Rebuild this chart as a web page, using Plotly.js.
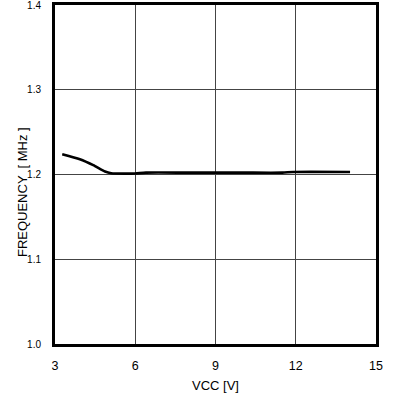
<!DOCTYPE html>
<html>
<head>
<meta charset="utf-8">
<script src="https://cdn.plot.ly/plotly-3.0.1.min.js"></script>
<style>html,body{margin:0;padding:0;background:#fff;}#chart{width:398px;height:410px;}</style>
</head>
<body>
<div id="chart"></div>
<script>
var vcc = [3.27, 3.93, 4.43, 4.87, 5.1, 5.6, 6.0, 6.4, 8.0, 10.0, 11.5, 11.9, 14.03];
var freq = [1.224, 1.218, 1.211, 1.2035, 1.2015, 1.201, 1.2012, 1.2022, 1.2022, 1.2022, 1.2022, 1.203, 1.203];
var xTicks = [3, 6, 9, 12, 15];
var yTicks = [1.0, 1.1, 1.2, 1.3, 1.4];
var yTickText = ["1.0", "1.1", "1.2", "1.3", "1.4"];
var xTitle = "VCC [V]";
var yTitle = "FREQUENCY  [ MHz ]";

var font = "Liberation Sans, Arial, sans-serif";
Plotly.newPlot("chart", [{
  x: vcc, y: freq, mode: "lines", type: "scatter",
  line: {color: "#000", width: 2.6, shape: "spline", smoothing: 0.6},
  hoverinfo: "skip"
}], {
  width: 398, height: 410,
  margin: {l: 55, r: 21.5, t: 5, b: 66},
  paper_bgcolor: "#fff", plot_bgcolor: "#fff",
  showlegend: false,
  font: {family: font, color: "#000"},
  xaxis: {
    range: [3, 15], tickvals: xTicks, ticks: "",
    showgrid: true, gridcolor: "#444", gridwidth: 1,
    showline: true, linecolor: "#000", linewidth: 3, mirror: true,
    zeroline: false, tickfont: {size: 12.5, family: font, color: "#000"},
    ticklabelstandoff: 8, automargin: false,
    title: {text: xTitle, font: {size: 13, family: font, color: "#000"}, standoff: 9}
  },
  yaxis: {
    range: [1.0, 1.4], tickvals: yTicks, ticktext: yTickText, ticks: "",
    showgrid: true, gridcolor: "#444", gridwidth: 1,
    showline: true, linecolor: "#000", linewidth: 3, mirror: true,
    zeroline: false, tickfont: {size: 10, family: font, color: "#000"},
    ticklabelstandoff: 9, ticklabeloverflow: "allow", automargin: false
  },
  annotations: [{
    text: yTitle, xref: "paper", yref: "paper", x: -0.101, y: 0.447,
    xanchor: "center", yanchor: "middle", textangle: -90, showarrow: false,
    font: {size: 13, family: font, color: "#000"}
  }]
}, {displayModeBar: false, staticPlot: true});
</script>
</body>
</html>
